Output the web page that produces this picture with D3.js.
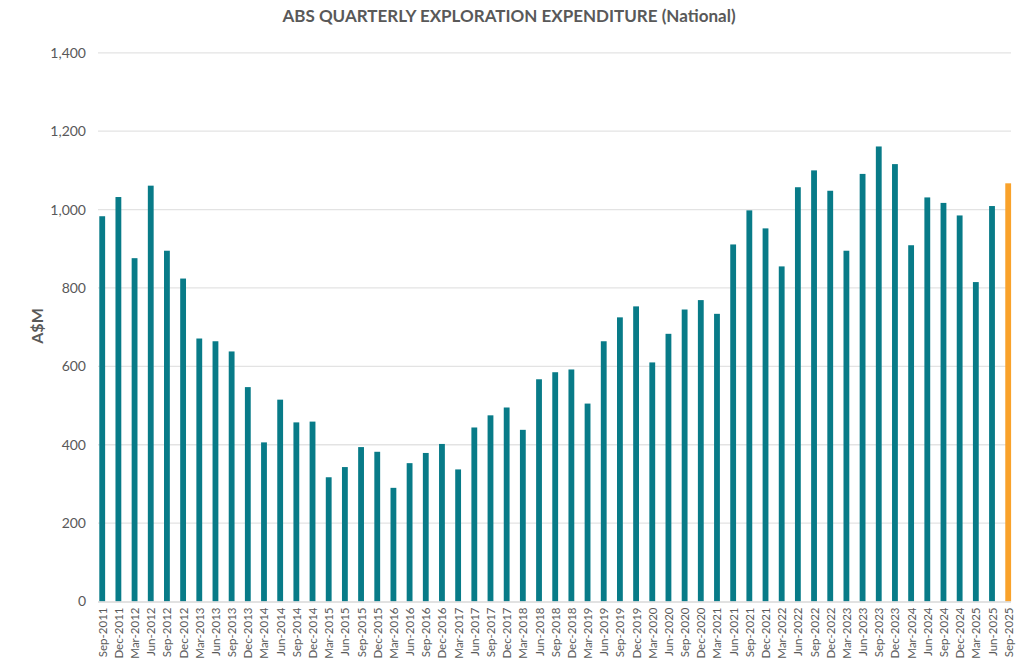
<!DOCTYPE html>
<html>
<head>
<meta charset="utf-8">
<script src="https://cdn.jsdelivr.net/npm/d3@7"></script>
<style>
  html, body { margin: 0; padding: 0; background: #fff; }
  svg { display: block; }
</style>
</head>
<body>
<svg id="chart" width="1024" height="664"></svg>
<script>
const quarters = [
  "Sep-2011","Dec-2011","Mar-2012","Jun-2012","Sep-2012","Dec-2012","Mar-2013","Jun-2013",
  "Sep-2013","Dec-2013","Mar-2014","Jun-2014","Sep-2014","Dec-2014","Mar-2015","Jun-2015",
  "Sep-2015","Dec-2015","Mar-2016","Jun-2016","Sep-2016","Dec-2016","Mar-2017","Jun-2017",
  "Sep-2017","Dec-2017","Mar-2018","Jun-2018","Sep-2018","Dec-2018","Mar-2019","Jun-2019",
  "Sep-2019","Dec-2019","Mar-2020","Jun-2020","Sep-2020","Dec-2020","Mar-2021","Jun-2021",
  "Sep-2021","Dec-2021","Mar-2022","Jun-2022","Sep-2022","Dec-2022","Mar-2023","Jun-2023",
  "Sep-2023","Dec-2023","Mar-2024","Jun-2024","Sep-2024","Dec-2024","Mar-2025","Jun-2025",
  "Sep-2025"
];
const expenditure = [
  983, 1032, 876, 1061, 895, 824, 671, 664,
  638, 547, 406, 515, 457, 459, 317, 343,
  394, 382, 290, 353, 379, 402, 337, 444,
  475, 495, 438, 567, 585, 592, 505, 664,
  725, 753, 610, 683, 745, 769, 734, 911,
  998, 952, 855, 1057, 1100, 1048, 895, 1091,
  1161, 1116, 909, 1031, 1017, 985, 815, 1009,
  1067
];
const highlighted = ["Sep-2025"];
const yTicks = [0, 200, 400, 600, 800, 1000, 1200, 1400];
const titleText = "ABS QUARTERLY EXPLORATION EXPENDITURE (National)";
const yTitle = "A$M";

const data = quarters.map((q, i) => ({ q, v: expenditure[i] }));

const svg = d3.select("#chart");
const font = "Lato, 'Open Sans', sans-serif";
const textColor = "#595959";
const teal = "#087b88";
const orange = "#f9a22b";

const x = d3.scaleBand().domain(quarters).range([99.3, 1011.1]).paddingInner(0.64).paddingOuter(0);
const y = d3.scaleLinear().domain([0, 1400]).range([601.5, 52.8]);

// gridlines
svg.append("g").selectAll("line").data(yTicks.filter(t => t > 0)).join("line")
  .attr("x1", 98).attr("x2", 1011)
  .attr("y1", d => y(d)).attr("y2", d => y(d))
  .attr("stroke", "#e3e3e3").attr("stroke-width", 1.3);

// y axis labels
const yAxis = d3.axisLeft(y).tickValues(yTicks).tickSize(0).tickPadding(0).tickFormat(d3.format(","));
const gy = svg.append("g").attr("transform", "translate(86,0)").call(yAxis);
gy.select(".domain").remove();
gy.selectAll("text").attr("font-family", font).attr("font-size", 14).attr("fill", textColor);

// bars
svg.append("g").selectAll("rect").data(data).join("rect")
  .attr("x", d => x(d.q))
  .attr("width", x.bandwidth())
  .attr("y", d => y(d.v))
  .attr("height", d => y(0) - y(d.v))
  .attr("fill", d => highlighted.includes(d.q) ? orange : teal);

// x axis
const xAxis = d3.axisBottom(x).tickSize(0).tickPadding(0);
const gx = svg.append("g").attr("transform", `translate(0,${y(0)})`).call(xAxis);
gx.select(".domain").attr("stroke", "#d9d9d9").attr("stroke-width", 1.3)
  .attr("d", "M98,0.5H1011");
gx.selectAll("text")
  .attr("font-family", font).attr("font-size", 11.5).attr("fill", textColor)
  .attr("text-anchor", "end")
  .attr("dy", null)
  .attr("transform", "translate(0,6) rotate(-90)")
  .attr("x", 0).attr("y", 0)
  .attr("dominant-baseline", "central");

// title
svg.append("text").attr("x", 509).attr("y", 22)
  .attr("text-anchor", "middle")
  .attr("font-family", font).attr("font-weight", "bold").attr("font-size", 17)
  .attr("fill", textColor).text(titleText);

// y title
svg.append("text")
  .attr("transform", "translate(43,326) rotate(-90)")
  .attr("text-anchor", "middle")
  .attr("font-family", font).attr("font-weight", "bold").attr("font-size", 16)
  .attr("fill", textColor).text(yTitle);
</script>
</body>
</html>
